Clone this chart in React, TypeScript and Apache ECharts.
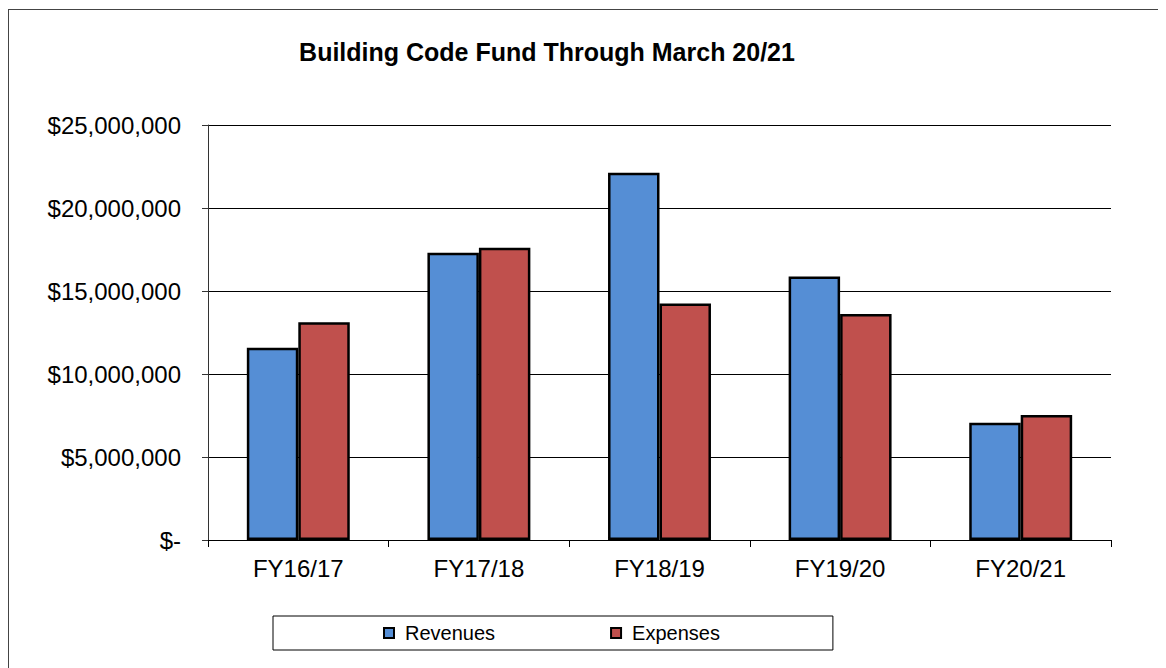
import React, { useEffect, useRef } from "react";
import * as echarts from "echarts";

const categories = ["FY16/17", "FY17/18", "FY18/19", "FY19/20", "FY20/21"];
const revenues = [11580000, 17310000, 22130000, 15880000, 7070000];
const expenses = [13110000, 17610000, 14240000, 13610000, 7530000];
const seriesNames = ["Revenues", "Expenses"];
const titleText = "Building Code Fund Through March 20/21";

const FONT = "'Liberation Sans', Arial, sans-serif";

function fmt(v: number): string {
  if (v === 0) return "$-";
  return "$" + v.toLocaleString("en-US");
}

export default function App() {
  const ref = useRef<HTMLDivElement>(null);
  useEffect(() => {
    if (!ref.current) return;
    const chart = echarts.init(ref.current, undefined, { renderer: "svg" });
    chart.setOption({
      animation: false,
      backgroundColor: "#fff",
      textStyle: { fontFamily: FONT },
      grid: { left: 200, right: 55, top: 117, bottom: 128 },
      graphic: [
        { type: "line", shape: { x1: 0.5, y1: 1, x2: 0.5, y2: 700 }, style: { stroke: "#444", lineWidth: 1 } },
        { type: "line", shape: { x1: 0, y1: 1.5, x2: 1200, y2: 1.5 }, style: { stroke: "#444", lineWidth: 1 } },
        {
          type: "text",
          x: 539,
          y: 44,
          style: {
            text: titleText,
            font: `bold 25px ${FONT}`,
            fill: "#000",
            align: "center",
            verticalAlign: "middle",
          },
        },
      ],
      legend: {
        data: seriesNames,
        left: 265,
        top: 608,
        orient: "horizontal",
        borderColor: "#000",
        borderWidth: 1,
        padding: [7, 113, 7, 110],
        itemWidth: 10,
        itemHeight: 10,
        itemGap: 115,
        icon: "rect",
        textStyle: { fontSize: 20, color: "#000", fontFamily: FONT, padding: [0, 0, 0, 6] },
      },
      xAxis: {
        type: "category",
        data: categories,
        axisLine: { lineStyle: { color: "#000", width: 1 } },
        axisTick: { show: true, length: 7, lineStyle: { color: "#000" } },
        axisLabel: { fontSize: 24, color: "#000", margin: 16, fontFamily: FONT },
        splitLine: { show: false },
      },
      yAxis: {
        type: "value",
        min: 0,
        max: 25000000,
        interval: 5000000,
        axisLine: { show: true, lineStyle: { color: "#333", width: 1 } },
        axisTick: { show: true, length: 6, lineStyle: { color: "#333" } },
        axisLabel: { fontSize: 24, color: "#000", margin: 27, fontFamily: FONT, formatter: (v: number) => fmt(v) },
        splitLine: { show: true, lineStyle: { color: "#000", width: 1 } },
      },
      series: [
        {
          name: seriesNames[0],
          type: "bar",
          data: revenues,
          barGap: "0%",
          barCategoryGap: "43%",
          itemStyle: { color: "#558ED5", borderColor: "#000", borderWidth: 2.5 },
        },
        {
          name: seriesNames[1],
          type: "bar",
          data: expenses,
          barGap: "0%",
          barCategoryGap: "43%",
          itemStyle: { color: "#C0504D", borderColor: "#000", borderWidth: 2.5 },
        },
      ],
    });
    return () => chart.dispose();
  }, []);
  return <div ref={ref} style={{ width: 1158, height: 660 }} />;
}
